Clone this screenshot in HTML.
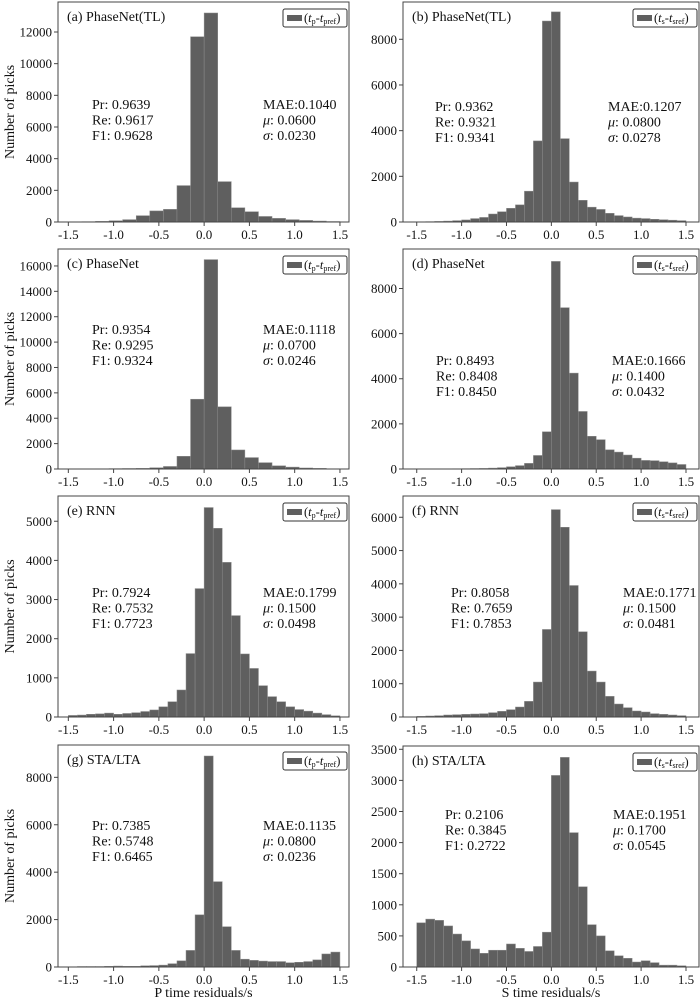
<!DOCTYPE html>
<html><head><meta charset="utf-8"><style>
html,body{margin:0;padding:0;background:#fff}
svg{display:block}
text{font-family:"Liberation Serif",serif;fill:#111}
</style></head><body>
<svg id="fig" width="700" height="1000" viewBox="0 0 700 1000" xmlns="http://www.w3.org/2000/svg"></svg>
<script>
// ---- data ----
const binStart = -1.5;
const binWidthA = 0.15;
const countsA = [5,20,40,80,150,400,700,800,2300,11700,13200,2550,900,650,350,230,150,100,60,30];
const binWidthB = 0.1;
const countsB = [10,15,25,40,60,90,150,200,350,450,600,750,1350,3550,8800,9200,3650,1750,950,650,550,380,280,220,170,150,120,100,80,60];
const binWidthC = 0.15;
const countsC = [5,10,20,30,40,50,100,200,1000,5500,16500,4900,1500,900,500,250,150,80,50,20];
const binWidthD = 0.1;
const countsD = [3,5,8,10,12,15,20,25,40,60,100,150,250,600,1650,9200,7150,4250,2550,1450,1300,850,750,620,480,380,370,320,270,200];
const binWidthE = 0.1;
const countsE = [40,50,70,80,100,70,90,110,140,180,260,390,690,1620,3280,5350,4820,3950,2590,1610,1240,800,520,390,260,190,150,100,60,30];
const binWidthF = 0.1;
const countsF = [20,30,40,60,70,80,90,100,130,170,220,300,470,1050,2630,6230,5700,3950,2560,1380,1050,620,390,280,180,150,100,80,60,40];
const binWidthG = 0.1;
const countsG = [10,20,20,20,30,40,30,30,50,60,80,140,260,700,2200,8900,3600,1700,700,330,280,250,230,230,180,200,230,300,550,630];
const binWidthH = 0.1;
const countsH = [710,770,750,660,530,420,290,220,270,270,370,300,250,330,560,3080,3370,2160,1290,680,500,260,180,140,80,100,70,30,30,20];
const xTicks = [-1.5,-1.0,-0.5,0.0,0.5,1.0,1.5];
const yTicksA = [0,2000,4000,6000,8000,10000,12000];
const yTicksB = [0,2000,4000,6000,8000];
const yTicksC = [0,2000,4000,6000,8000,10000,12000,14000,16000];
const yTicksD = [0,2000,4000,6000,8000];
const yTicksE = [0,1000,2000,3000,4000,5000];
const yTicksF = [0,1000,2000,3000,4000,5000,6000];
const yTicksG = [0,2000,4000,6000,8000];
const yTicksH = [0,500,1000,1500,2000,2500,3000,3500];
const statsA = ["Pr: 0.9639","Re: 0.9617","F1: 0.9628"], errA = ["MAE:0.1040","0.0600","0.0230"];
const statsB = ["Pr: 0.9362","Re: 0.9321","F1: 0.9341"], errB = ["MAE:0.1207","0.0800","0.0278"];
const statsC = ["Pr: 0.9354","Re: 0.9295","F1: 0.9324"], errC = ["MAE:0.1118","0.0700","0.0246"];
const statsD = ["Pr: 0.8493","Re: 0.8408","F1: 0.8450"], errD = ["MAE:0.1666","0.1400","0.0432"];
const statsE = ["Pr: 0.7924","Re: 0.7532","F1: 0.7723"], errE = ["MAE:0.1799","0.1500","0.0498"];
const statsF = ["Pr: 0.8058","Re: 0.7659","F1: 0.7853"], errF = ["MAE:0.1771","0.1500","0.0481"];
const statsG = ["Pr: 0.7385","Re: 0.5748","F1: 0.6465"], errG = ["MAE:0.1135","0.0800","0.0236"];
const statsH = ["Pr: 0.2106","Re: 0.3845","F1: 0.2722"], errH = ["MAE:0.1951","0.1700","0.0545"];

const panels = [
 {id:'a',title:'(a) PhaseNet(TL)',ph:'p',x0:58,x1:349,y0:2,y1:222,xl:[-1.614,1.6],ymax:13894,w:binWidthA,c:countsA,yt:yTicksA,st:statsA,er:errA,sx:92,ex:263,sy:104,ylab:true},
 {id:'b',title:'(b) PhaseNet(TL)',ph:'s',x0:403,x1:699,y0:2,y1:222,xl:[-1.653,1.645],ymax:9633,w:binWidthB,c:countsB,yt:yTicksB,st:statsB,er:errB,sx:435,ex:608,sy:106},
 {id:'c',title:'(c) PhaseNet',ph:'p',x0:58,x1:349,y0:249,y1:469,xl:[-1.614,1.6],ymax:17336,w:binWidthC,c:countsC,yt:yTicksC,st:statsC,er:errC,sx:92,ex:263,sy:329,ylab:true},
 {id:'d',title:'(d) PhaseNet',ph:'s',x0:403,x1:699,y0:249,y1:469,xl:[-1.653,1.645],ymax:9750,w:binWidthD,c:countsD,yt:yTicksD,st:statsD,er:errD,sx:436,ex:612,sy:360},
 {id:'e',title:'(e) RNN',ph:'p',x0:58,x1:349,y0:496,y1:717,xl:[-1.614,1.6],ymax:5645,w:binWidthE,c:countsE,yt:yTicksE,st:statsE,er:errE,sx:92,ex:263,sy:592,ylab:true},
 {id:'f',title:'(f) RNN',ph:'s',x0:403,x1:699,y0:496,y1:717,xl:[-1.653,1.645],ymax:6639,w:binWidthF,c:countsF,yt:yTicksF,st:statsF,er:errF,sx:451,ex:623,sy:592},
 {id:'g',title:'(g) STA/LTA',ph:'p',x0:58,x1:349,y0:745,y1:967,xl:[-1.614,1.6],ymax:9364,w:binWidthG,c:countsG,yt:yTicksG,st:statsG,er:errG,sx:92,ex:263,sy:825,ylab:true,xlab:'P time residuals/s'},
 {id:'h',title:'(h) STA/LTA',ph:'s',x0:403,x1:699,y0:746,y1:967,xl:[-1.653,1.645],ymax:3553,w:binWidthH,c:countsH,yt:yTicksH,st:statsH,er:errH,sx:445,ex:613,sy:814,xlab:'S time residuals/s'}
];
const NS='http://www.w3.org/2000/svg';
const svg=document.getElementById('fig');
function mk(tag,attrs,parent){const e=document.createElementNS(NS,tag);for(const k in attrs)e.setAttribute(k,attrs[k]);(parent||svg).appendChild(e);return e;}
function fmt(v){return v.toFixed(1);}
panels.forEach(p=>{
  const g=mk('g',{});
  
  
  const X=v=>p.x0+(v-p.xl[0])/(p.xl[1]-p.xl[0])*(p.x1-p.x0);
  const Y=v=>p.y1-v/p.ymax*(p.y1-p.y0);
  p.c.forEach((v,i)=>{
    const a=binStart+i*p.w, b=a+p.w;
    if(v<=0) return;
    const r=mk('rect',{x:X(a),y:Y(v),width:X(b)-X(a),height:Y(0)-Y(v),fill:'#5f5f5f',stroke:'#8c8c8c','stroke-width':0.5},g);
    
    
  });
  const fr=mk('rect',{x:p.x0,y:p.y0,width:p.x1-p.x0,height:p.y1-p.y0,fill:'none',stroke:'#444','stroke-width':1},g);
  
  
  xTicks.forEach(t=>{
    const x=X(t);
    mk('line',{x1:x,x2:x,y1:p.y1,y2:p.y1+4,stroke:'#444','stroke-width':1},g);
    const tx=mk('text',{x:x,y:p.y1+17,'text-anchor':'middle','font-size':13},g);
    tx.textContent=fmt(t);
    
    
  });
  p.yt.forEach(t=>{
    const y=Y(t);
    mk('line',{x1:p.x0-4,x2:p.x0,y1:y,y2:y,stroke:'#444','stroke-width':1},g);
    const ty=mk('text',{x:p.x0-6,y:y+4.5,'text-anchor':'end','font-size':13},g);
    ty.textContent=String(t);
    
    
  });
  const tt=mk('text',{x:p.x0+9,y:p.y0+19,'font-size':14},g);
  tt.textContent=p.title;
  
  
  const lg=mk('g',{},g);
  
  
  mk('rect',{x:p.x1-66,y:p.y0+7,width:64,height:18,rx:2,fill:'#fff',stroke:'#333','stroke-width':1},lg);
  mk('rect',{x:p.x1-62,y:p.y0+13,width:15,height:6,fill:'#5f5f5f'},lg);
  const lt=mk('text',{x:p.x1-45,y:p.y0+20,'font-size':12.5},lg);
  lt.innerHTML='(<tspan font-style="italic">t</tspan><tspan font-size="8" dy="2">'+p.ph+'</tspan><tspan dy="-2">-</tspan><tspan font-style="italic">t</tspan><tspan font-size="8" dy="2">'+p.ph+'ref</tspan><tspan dy="-2">)</tspan>';
  p.st.forEach((s,i)=>{
    const t=mk('text',{x:p.sx,y:p.sy+5+i*15.5,'font-size':14},g);
    t.textContent=s;
    
    
  });
  const lab=['','μ','σ'];
  p.er.forEach((s,i)=>{
    const t=mk('text',{x:p.ex,y:p.sy+5+i*15.5,'font-size':14},g);
    if(i===0) t.textContent=s; else t.innerHTML='<tspan font-style="italic">'+lab[i]+'</tspan>: '+s;
    
    
  });
  if(p.ylab){
    const cy=(p.y0+p.y1)/2;
    const yl=mk('text',{x:14,y:cy,'font-size':14,'text-anchor':'middle',transform:'rotate(-90 14 '+cy+')'},g);
    yl.textContent='Number of picks';
    
    
  }
  if(p.xlab){
    const xl=mk('text',{x:(p.x0+p.x1)/2,y:997,'font-size':14,'text-anchor':'middle'},g);
    xl.textContent=p.xlab;
    
    
  }
});
</script>
</body></html>
